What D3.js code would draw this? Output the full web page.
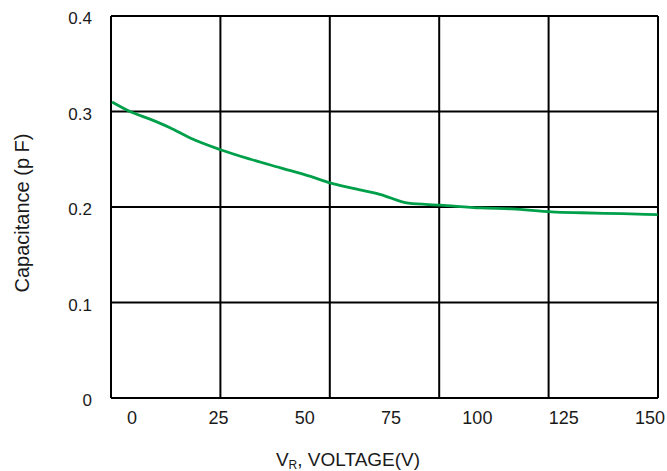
<!DOCTYPE html>
<html>
<head>
<meta charset="utf-8">
<script src="https://cdn.jsdelivr.net/npm/d3@7"></script>
<style>
  body { margin: 0; background: #fff; }
  text { font-family: "Liberation Sans", Arial, sans-serif; fill: #1a1a1a; }
</style>
</head>
<body>
<div id="chart"></div>
<script>
var voltage = [-5.8, -0.6, 5.2, 11, 17, 25.6, 34.3, 43, 51.7, 57.6, 63.4, 72, 80, 89.2, 101, 110, 121.5, 130, 142, 152.2];
var capacitance = [0.310, 0.300, 0.292, 0.283, 0.272, 0.260, 0.250, 0.241, 0.232, 0.225, 0.220, 0.213, 0.204, 0.202, 0.199, 0.198, 0.195, 0.194, 0.193, 0.192];
var xTicks = [0, 25, 50, 75, 100, 125, 150];
var yTicks = [0, 0.1, 0.2, 0.3, 0.4];

(function(){
  var W = 667, H = 471;
  var margin = {top: 16, right: 9, bottom: 73, left: 111},
      width  = W - margin.left - margin.right,
      height = H - margin.top  - margin.bottom;

  var svg = d3.select('#chart').append('svg')
      .attr('width', W)
      .attr('height', H);

  var g = svg.append('g')
      .attr('transform', 'translate(' + margin.left + ',' + margin.top + ')');

  var x = d3.scaleLinear().domain([-6.1, 152.3]).range([0, width]);
  var y = d3.scaleLinear().domain([0, 0.4]).range([height, 0]);

  // five equal columns, as in the datasheet
  var xd = x.domain();
  var vgrid = d3.range(6).map(function(i) { return xd[0] + i * (xd[1] - xd[0]) / 5; });

  g.selectAll('.vgrid')
    .data(vgrid).enter()
    .append('line')
    .attr('x1', function(d) { return x(d); })
    .attr('x2', function(d) { return x(d); })
    .attr('y1', 0).attr('y2', height)
    .attr('stroke', '#000').attr('stroke-width', 2);

  g.selectAll('.hgrid')
    .data(yTicks).enter()
    .append('line')
    .attr('x1', 0).attr('x2', width)
    .attr('y1', function(d) { return y(d); })
    .attr('y2', function(d) { return y(d); })
    .attr('stroke', '#000').attr('stroke-width', 2);

  g.selectAll('.ylab')
    .data(yTicks).enter()
    .append('text')
    .attr('x', -19)
    .attr('y', function(d) { return y(d) + 8; })
    .attr('text-anchor', 'end')
    .style('font-size', '17px')
    .text(function(d) { return d === 0 ? '0' : d3.format('.1f')(d); });

  g.selectAll('.xlab')
    .data(xTicks).enter()
    .append('text')
    .attr('x', function(d) { return x(d); })
    .attr('y', height + 26)
    .attr('text-anchor', 'middle')
    .style('font-size', '18px')
    .text(function(d) { return d; });

  var line = d3.line()
    .x(function(d) { return x(d[0]); })
    .y(function(d) { return y(d[1]); })
    .curve(d3.curveMonotoneX);

  g.append('path')
    .datum(d3.zip(voltage, capacitance))
    .attr('fill', 'none')
    .attr('stroke', '#00a04b')
    .attr('stroke-width', 2.8)
    .attr('d', line);

  svg.append('text')
    .attr('transform', 'translate(29,213) rotate(-90)')
    .attr('text-anchor', 'middle')
    .style('font-size', '20px')
    .text('Capacitance (p F)');

  var xt = svg.append('text')
    .attr('x', 348)
    .attr('y', 466)
    .attr('text-anchor', 'middle')
    .style('font-size', '19px');
  xt.append('tspan').text('V');
  xt.append('tspan').attr('dy', 3).style('font-size', '12px').text('R');
  xt.append('tspan').attr('dy', -3).text(', VOLTAGE(V)');
}());
</script>
</body>
</html>
